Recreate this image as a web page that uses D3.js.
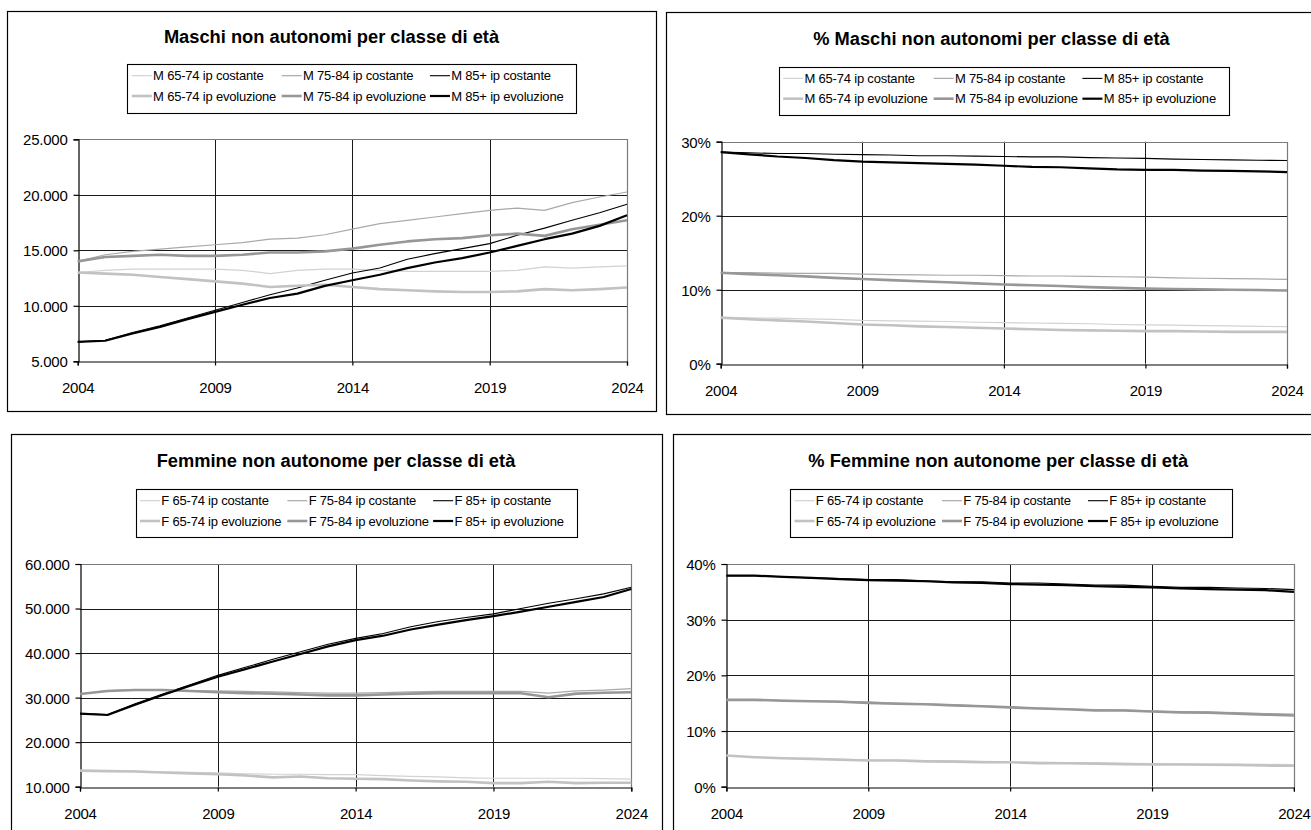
<!DOCTYPE html>
<html>
<head>
<meta charset="utf-8">
<script src="https://cdn.jsdelivr.net/npm/d3@7"></script>
<style>
  body { margin: 0; background: #fff; }
  svg { display: block; }
</style>
</head>
<body>
<svg id="chart" width="1311" height="830"></svg>
<script>
// ---- data -------------------------------------------------------------
const years = [2004, 2005, 2006, 2007, 2008, 2009, 2010, 2011, 2012, 2013, 2014,
               2015, 2016, 2017, 2018, 2019, 2020, 2021, 2022, 2023, 2024];
const xTicks = [2004, 2009, 2014, 2019, 2024];

const seriesLabels = ["65-74 ip costante", "75-84 ip costante", "85+ ip costante",
                      "65-74 ip evoluzione", "75-84 ip evoluzione", "85+ ip evoluzione"];

// Maschi non autonomi (numero)
const m65Cost = [13000, 13200, 13300, 13300, 13300, 13300, 13200, 12900, 13200, 13300, 13300,
                 13200, 13100, 13100, 13100, 13100, 13200, 13500, 13400, 13500, 13600];
const m75Cost = [14000, 14600, 14900, 15100, 15300, 15500, 15700, 16000, 16100, 16400, 16900,
                 17400, 17700, 18000, 18300, 18600, 18800, 18600, 19300, 19800, 20250];
const m85Cost = [6750, 6900, 7600, 8200, 8900, 9600, 10300, 11000, 11600, 12300, 12950,
                 13400, 14200, 14700, 15150, 15600, 16350, 17000, 17700, 18380, 19150];
const m65Evol = [13000, 12900, 12800, 12600, 12400, 12200, 12000, 11700, 11800, 11900, 11700,
                 11500, 11400, 11300, 11250, 11250, 11300, 11500, 11400, 11500, 11650];
const m75Evol = [14000, 14400, 14500, 14600, 14500, 14500, 14600, 14800, 14800, 14900, 15150,
                 15500, 15800, 16000, 16100, 16350, 16500, 16300, 16900, 17300, 17700];
const m85Evol = [6750, 6850, 7500, 8100, 8800, 9450, 10100, 10700, 11100, 11800, 12300,
                 12800, 13400, 13900, 14300, 14800, 15400, 16000, 16500, 17200, 18150];
const yTicksMaschi = [5000, 10000, 15000, 20000, 25000];

// Maschi non autonomi (%)
const pm65Cost = [6.3, 6.2, 6.15, 6.05, 6.0, 5.85, 5.8, 5.75, 5.7, 5.6, 5.55,
                  5.5, 5.45, 5.4, 5.3, 5.25, 5.2, 5.15, 5.1, 5.05, 5.0];
const pm75Cost = [12.3, 12.3, 12.25, 12.2, 12.2, 12.1, 12.05, 12.0, 11.95, 11.95, 11.9,
                  11.85, 11.85, 11.8, 11.75, 11.7, 11.6, 11.55, 11.5, 11.45, 11.4];
const pm85Cost = [28.6, 28.5, 28.4, 28.4, 28.3, 28.25, 28.2, 28.1, 28.1, 28.05, 28.0,
                  27.95, 27.95, 27.85, 27.8, 27.75, 27.65, 27.6, 27.55, 27.5, 27.45];
const pm65Evol = [6.2, 6.0, 5.85, 5.7, 5.5, 5.3, 5.2, 5.05, 4.95, 4.85, 4.75,
                  4.65, 4.55, 4.5, 4.45, 4.4, 4.4, 4.35, 4.3, 4.3, 4.3];
const pm75Evol = [12.3, 12.1, 11.95, 11.8, 11.6, 11.45, 11.3, 11.15, 11.0, 10.85, 10.7,
                  10.6, 10.5, 10.35, 10.25, 10.15, 10.1, 10.05, 10.0, 9.95, 9.9];
const pm85Evol = [28.6, 28.3, 28.0, 27.8, 27.5, 27.3, 27.2, 27.1, 27.0, 26.9, 26.75,
                  26.6, 26.55, 26.4, 26.25, 26.2, 26.2, 26.1, 26.05, 26.0, 25.9];
const yTicksPctMaschi = [0, 10, 20, 30];

// Femmine non autonome (numero)
const f65Cost = [13600, 13500, 13500, 13300, 13200, 13100, 12900, 12800, 12800, 12700, 12700,
                 12500, 12300, 12200, 12000, 11900, 11900, 11900, 11900, 11800, 11700];
const f75Cost = [30800, 31600, 31800, 31800, 31600, 31500, 31400, 31300, 31100, 31000, 31000,
                 31100, 31300, 31400, 31400, 31400, 31400, 31000, 31500, 31700, 32000];
const f85Cost = [26400, 26200, 28600, 30800, 32900, 35000, 36800, 38600, 40300, 42000, 43300,
                 44400, 45900, 47100, 48000, 48800, 50000, 51200, 52200, 53300, 54800];
const f65Evol = [13600, 13500, 13400, 13200, 13000, 12800, 12500, 12100, 12300, 11900, 11800,
                 11700, 11400, 11200, 11100, 10800, 10800, 11100, 10800, 10900, 10900];
const f75Evol = [30800, 31500, 31700, 31700, 31500, 31200, 31000, 30900, 30700, 30500, 30500,
                 30700, 30900, 31000, 31000, 31000, 31000, 30100, 30900, 31100, 31200];
const f85Evol = [26400, 26100, 28400, 30600, 32700, 34700, 36400, 38100, 39800, 41500, 42900,
                 43900, 45300, 46400, 47400, 48300, 49300, 50400, 51500, 52600, 54400];
const yTicksFemmine = [10000, 20000, 30000, 40000, 50000, 60000];

// Femmine non autonome (%)
const pf65Cost = [5.6, 5.3, 5.1, 5.05, 4.95, 4.8, 4.8, 4.7, 4.65, 4.55, 4.45,
                  4.4, 4.35, 4.3, 4.2, 4.15, 4.1, 4.05, 4.05, 4.0, 3.95];
const pf75Cost = [15.6, 15.6, 15.5, 15.4, 15.35, 15.2, 15.0, 14.9, 14.7, 14.5, 14.3,
                  14.1, 14.0, 13.85, 13.8, 13.6, 13.45, 13.4, 13.3, 13.15, 13.05];
const pf85Cost = [37.9, 37.9, 37.7, 37.5, 37.4, 37.2, 37.2, 37.0, 36.8, 36.8, 36.6,
                  36.6, 36.4, 36.2, 36.2, 36.0, 35.8, 35.8, 35.7, 35.6, 35.4];
const pf65Evol = [5.6, 5.3, 5.1, 5.0, 4.85, 4.7, 4.7, 4.55, 4.5, 4.4, 4.4,
                  4.2, 4.2, 4.15, 4.05, 4.0, 4.0, 3.95, 3.9, 3.8, 3.75];
const pf75Evol = [15.6, 15.6, 15.45, 15.35, 15.25, 15.05, 14.9, 14.8, 14.6, 14.45, 14.25,
                  14.05, 13.9, 13.7, 13.7, 13.5, 13.35, 13.3, 13.1, 12.95, 12.8];
const pf85Evol = [37.9, 37.9, 37.7, 37.5, 37.3, 37.1, 37.0, 36.9, 36.7, 36.6, 36.4,
                  36.3, 36.2, 36.0, 35.9, 35.8, 35.6, 35.5, 35.4, 35.3, 35.0];
const yTicksPctFemmine = [0, 10, 20, 30, 40];

// ---- styles -----------------------------------------------------------
const lineStyles = [
  { color: "#d2d2d2", width: 1.2 },
  { color: "#a9a9a9", width: 1.2 },
  { color: "#000000", width: 1.1 },
  { color: "#c2c2c2", width: 2.6 },
  { color: "#979797", width: 2.6 },
  { color: "#000000", width: 2.2 }
];

const itNumber = d3.formatLocale({ decimal: ",", thousands: ".", grouping: [3], currency: ["€", ""] }).format(",d");
const pctFormat = v => v + "%";

const panels = [
  {
    title: "Maschi non autonomi per classe di età", prefix: "M",
    series: [m65Cost, m75Cost, m85Cost, m65Evol, m75Evol, m85Evol],
    yTicks: yTicksMaschi, fmt: itNumber,
    box: [7, 10.5, 655.7, 410.7], plot: [77.7, 139.3, 627, 361.3],
    titlePos: [331.5, 43.3], legend: [127.3, 64, 576, 113.3]
  },
  {
    title: "% Maschi non autonomi per classe di età", prefix: "M",
    series: [pm65Cost, pm75Cost, pm85Cost, pm65Evol, pm75Evol, pm85Evol],
    yTicks: yTicksPctMaschi, fmt: pctFormat,
    box: [666, 12.3, 1330, 414.3], plot: [720.7, 141.7, 1287, 363.7],
    titlePos: [991.5, 45], legend: [778.7, 66.7, 1229, 114.3]
  },
  {
    title: "Femmine non autonome per classe di età", prefix: "F",
    series: [f65Cost, f75Cost, f85Cost, f65Evol, f75Evol, f85Evol],
    yTicks: yTicksFemmine, fmt: itNumber,
    box: [10.5, 434, 661, 850], plot: [80, 564, 631.3, 786.7],
    titlePos: [336, 466.7], legend: [135.5, 489, 576.6, 537.3]
  },
  {
    title: "% Femmine non autonome per classe di età", prefix: "F",
    series: [pf65Cost, pf75Cost, pf85Cost, pf65Evol, pf75Evol, pf85Evol],
    yTicks: yTicksPctFemmine, fmt: pctFormat,
    box: [673.3, 434, 1330, 850], plot: [726.4, 564, 1293.9, 786.7],
    titlePos: [998.3, 466.7], legend: [790, 489, 1231.6, 537.3]
  }
];

// ---- drawing ----------------------------------------------------------
const svg = d3.select("#chart");
const FONT = "'Liberation Sans', Arial, Helvetica, sans-serif";
const px = v => Math.round(v) + 0.5;
const legendCols = [0, 0.334, 0.6645];   // column starts as share of legend width

panels.forEach(p => {
  const g = svg.append("g");
  const [bx0, by0, bx1, by1] = p.box;
  const [px0, py0, px1, py1] = p.plot;

  // panel frame
  g.append("rect")
    .attr("x", px(bx0)).attr("y", px(by0))
    .attr("width", Math.round(bx1 - bx0)).attr("height", Math.round(by1 - by0))
    .attr("fill", "#fff").attr("stroke", "#000").attr("stroke-width", 1.2);

  const x = d3.scaleLinear().domain([years[0], years[years.length - 1]]).range([px0, px1]);
  const y = d3.scaleLinear().domain(d3.extent(p.yTicks)).range([py1, py0]);

  // horizontal grid lines
  g.append("g").selectAll("line").data(p.yTicks.slice(1, -1)).join("line")
    .attr("x1", px0).attr("x2", px1)
    .attr("y1", d => px(y(d))).attr("y2", d => px(y(d)))
    .attr("stroke", "#1a1a1a").attr("stroke-width", 1);

  // vertical grid lines
  g.append("g").selectAll("line").data(xTicks.slice(1, -1)).join("line")
    .attr("x1", d => px(x(d))).attr("x2", d => px(x(d)))
    .attr("y1", py0).attr("y2", py1)
    .attr("stroke", "#1a1a1a").attr("stroke-width", 1);

  // plot area outline (top and right)
  g.append("path")
    .attr("d", `M${px(px0)},${px(py0)}H${px(px1)}V${px(py1)}`)
    .attr("fill", "none").attr("stroke", "#7a7a7a").attr("stroke-width", 1.2);

  // axes
  const yAxis = d3.axisLeft(y).tickValues(p.yTicks).tickFormat(p.fmt).tickSize(5).tickPadding(6);
  const yg = g.append("g").attr("transform", `translate(${px(px0)},0)`).call(yAxis);
  const xAxis = d3.axisBottom(x).tickValues(xTicks).tickFormat(d3.format("d")).tickSize(4).tickPadding(17);
  const xg = g.append("g").attr("transform", `translate(0,${px(py1)})`).call(xAxis);
  [yg, xg].forEach(a => {
    a.select(".domain").attr("stroke", "#000").attr("stroke-width", 1.2);
    a.selectAll(".tick line").attr("stroke", "#000").attr("stroke-width", 1.2);
    a.selectAll(".tick text").attr("fill", "#000")
      .style("font-family", FONT).style("font-size", "15px").style("letter-spacing", "-0.25px");
  });
  yg.selectAll(".tick text").attr("dy", "0.36em");

  // series
  const line = d3.line().x((d, i) => x(years[i])).y(d => y(d));
  p.series.forEach((s, i) => {
    g.append("path").datum(s)
      .attr("d", line)
      .attr("fill", "none")
      .attr("stroke", lineStyles[i].color)
      .attr("stroke-width", lineStyles[i].width)
      .attr("stroke-linejoin", "round");
  });

  // title
  g.append("text")
    .attr("x", p.titlePos[0]).attr("y", p.titlePos[1])
    .attr("text-anchor", "middle")
    .style("font-family", FONT).style("font-size", "18.3px").style("font-weight", "bold")
    .text(p.title);

  // legend
  const [lx0, ly0, lx1, ly1] = p.legend;
  const lw = lx1 - lx0;
  g.append("rect")
    .attr("x", px(lx0)).attr("y", px(ly0))
    .attr("width", Math.round(lw)).attr("height", Math.round(ly1 - ly0))
    .attr("fill", "#fff").attr("stroke", "#000").attr("stroke-width", 1.1);
  seriesLabels.forEach((lab, i) => {
    const col = i % 3, row = Math.floor(i / 3);
    const cx = lx0 + 4.5 + legendCols[col] * lw;
    const cy = ly0 + (row === 0 ? 11.7 : 32);
    g.append("line")
      .attr("x1", cx).attr("x2", cx + 20)
      .attr("y1", cy).attr("y2", cy)
      .attr("stroke", lineStyles[i].color).attr("stroke-width", lineStyles[i].width);
    g.append("text")
      .attr("x", cx + 21.3).attr("y", cy + 4.6)
      .style("font-family", FONT).style("font-size", "13px").style("letter-spacing", "-0.2px")
      .text(p.prefix + " " + lab);
  });
});
</script>
</body>
</html>
